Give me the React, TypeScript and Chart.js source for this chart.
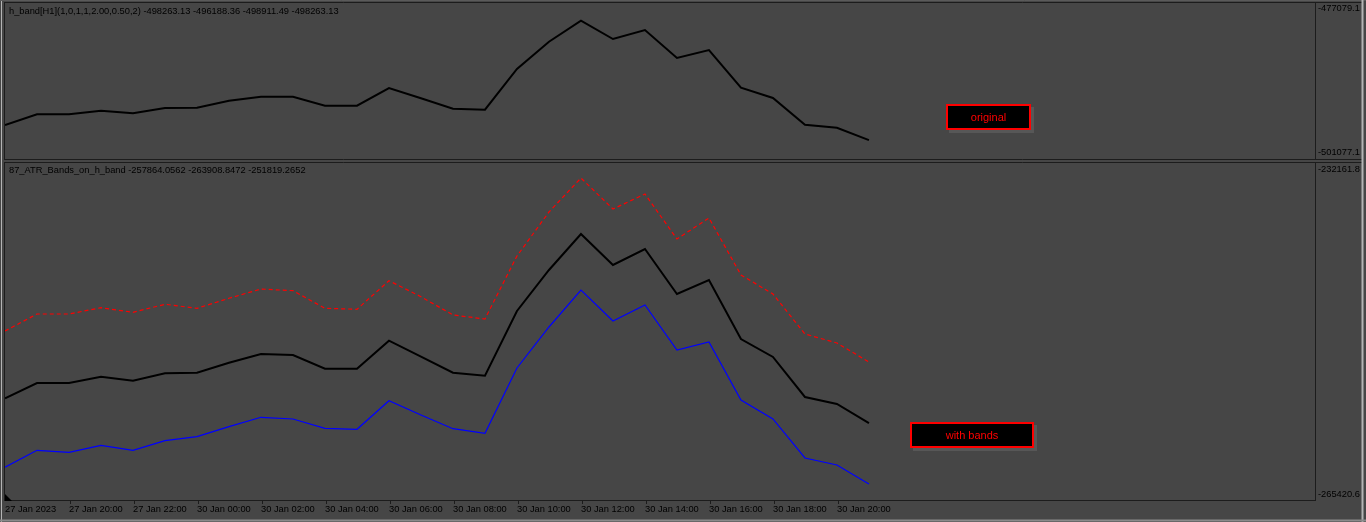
import React, { useEffect, useRef } from "react";
import { Chart, registerables } from "chart.js";
Chart.register(...registerables);

// ---- data ----
const BAR_TIMES = [
  "27 Jan 18:00", "27 Jan 19:00", "27 Jan 20:00", "27 Jan 21:00", "27 Jan 22:00", "27 Jan 23:00",
  "30 Jan 00:00", "30 Jan 01:00", "30 Jan 02:00", "30 Jan 03:00", "30 Jan 04:00", "30 Jan 05:00",
  "30 Jan 06:00", "30 Jan 07:00", "30 Jan 08:00", "30 Jan 09:00", "30 Jan 10:00", "30 Jan 11:00",
  "30 Jan 12:00", "30 Jan 13:00", "30 Jan 14:00", "30 Jan 15:00", "30 Jan 16:00", "30 Jan 17:00",
  "30 Jan 18:00", "30 Jan 19:00", "30 Jan 20:00", "30 Jan 21:00",
];
const TICK_INDEX = [0, 2, 4, 6, 8, 10, 12, 14, 16, 18, 20, 22, 24, 26];
const TICK_LABELS = [
  "27 Jan 2023", "27 Jan 20:00", "27 Jan 22:00", "30 Jan 00:00", "30 Jan 02:00", "30 Jan 04:00",
  "30 Jan 06:00", "30 Jan 08:00", "30 Jan 10:00", "30 Jan 12:00", "30 Jan 14:00", "30 Jan 16:00",
  "30 Jan 18:00", "30 Jan 20:00",
];

const H_BAND = [
  -495901, -494223, -494223, -493658, -494066, -493235, -493187, -492090, -491462, -491462,
  -492874, -492874, -490098, -491713, -493344, -493501, -487117, -482835, -479542, -482412,
  -481000, -485392, -484137, -490051, -491666, -495854, -496324, -498263.13,
];
const BAND_MID = [
  -255414, -253898, -253898, -253274, -253670, -252937, -252877, -251887, -251025, -251124,
  -252481, -252481, -249707, -251292, -252877, -253175, -246765, -242703, -239137, -242208,
  -240623, -245081, -243694, -249539, -251322, -255285, -255978, -257864.06,
];
const BAND_UP = [
  -248746, -247062, -247062, -246438, -246894, -246101, -246497, -245507, -244585, -244754,
  -246497, -246596, -243763, -245348, -247161, -247557, -241316, -236957, -233589, -236660,
  -235174, -239632, -237551, -243198, -245081, -249044, -249935, -251819.27,
];
const BAND_LO = [
  -262250, -260565, -260764, -260070, -260565, -259614, -259218, -258227, -257296, -257464,
  -258386, -258485, -255652, -257068, -258425, -258881, -252412, -248350, -244685, -247756,
  -246171, -250629, -249836, -255582, -257464, -261328, -262022, -263908.85,
];

const TOP_SCALE = [-501077.1, -477079.1];
const BOT_SCALE = [-265420.6, -232161.8];
const X_MAX = 40.94;
const TOP_TITLE = "h_band[H1](1,0,1,1,2.00,0.50,2) -498263.13 -496188.36 -498911.49 -498263.13";
const BOT_TITLE = "87_ATR_Bands_on_h_band -257864.0562 -263908.8472 -251819.2652";
const TOP_BOX = "original";
const BOT_BOX = "with bands";

// ---- styles ----
const BG = "#464646";
const FRAME = "#1c1c1c";
const TEXT = "#000000";
const EDGE = "#b4b4b4";
const FONT = '9.3px "Liberation Sans", Arial, sans-serif';
const BOX_FONT = '11px "Liberation Sans", Arial, sans-serif';

const pts = (arr: number[]) => arr.map((v, i) => ({ x: i, y: v }));

function line(ctx: CanvasRenderingContext2D, x1: number, y1: number, x2: number, y2: number, color: string, w = 1) {
  ctx.save();
  ctx.strokeStyle = color;
  ctx.lineWidth = w;
  ctx.setLineDash([]);
  ctx.beginPath();
  ctx.moveTo(x1, y1);
  ctx.lineTo(x2, y2);
  ctx.stroke();
  ctx.restore();
}

function text(ctx: CanvasRenderingContext2D, s: string, x: number, y: number, font: string, color: string, align: CanvasTextAlign = "left") {
  ctx.save();
  ctx.font = font;
  ctx.fillStyle = color;
  ctx.textAlign = align;
  ctx.textBaseline = "middle";
  ctx.fillText(s, x, y);
  ctx.restore();
}

function box(ctx: CanvasRenderingContext2D, s: string, x: number, y: number, w: number, h: number) {
  ctx.save();
  ctx.fillStyle = "#575757";
  ctx.fillRect(x + 3, y + 3, w, h);
  ctx.fillStyle = "#000000";
  ctx.fillRect(x, y, w, h);
  ctx.strokeStyle = "#ff0000";
  ctx.lineWidth = 2;
  ctx.strokeRect(x + 1, y + 1, w - 2, h - 2);
  ctx.restore();
  text(ctx, s, x + w / 2, y + h / 2 + 0.5, BOX_FONT, "#ff0000", "center");
}

const bgPlugin = {
  id: "bgfill",
  beforeDraw(chart: any) {
    const ctx = chart.ctx;
    ctx.save();
    ctx.fillStyle = BG;
    ctx.fillRect(0, 0, chart.width, chart.height);
    ctx.restore();
  },
};

const topDecor = {
  id: "topDecor",
  afterDraw(chart: any) {
    const ctx = chart.ctx as CanvasRenderingContext2D;
    const y = chart.scales.y;
    line(ctx, 4, 2.5, 1362, 2.5, FRAME);
    line(ctx, 4, 159.5, 1362, 159.5, FRAME);
    line(ctx, 4.5, 2.5, 4.5, 159.5, FRAME);
    line(ctx, 1315.5, 2.5, 1315.5, 159.5, FRAME);
    line(ctx, 1.5, 0, 1.5, 160, EDGE);
    line(ctx, 0, 0.5, 1366, 0.5, "#5a5a5a");
    text(ctx, TOP_TITLE, 9, 11.5, FONT, TEXT);
    text(ctx, y.max.toFixed(1), 1318, 8.5, FONT, TEXT);
    text(ctx, y.min.toFixed(1), 1318, 152.5, FONT, TEXT);
    line(ctx, 1362.5, 0, 1362.5, 160, EDGE, 2);
    box(ctx, TOP_BOX, 946, 104, 85, 26);
  },
};

const botDecor = {
  id: "botDecor",
  afterDraw(chart: any) {
    const ctx = chart.ctx as CanvasRenderingContext2D;
    const y = chart.scales.y;
    const x = chart.scales.x;
    line(ctx, 4, 2.5, 1362, 2.5, FRAME);
    line(ctx, 4, 340.5, 1316, 340.5, FRAME);
    line(ctx, 4.5, 2.5, 4.5, 340.5, FRAME);
    line(ctx, 1315.5, 2.5, 1315.5, 340.5, FRAME);
    line(ctx, 1.5, 0, 1.5, 362, EDGE);
    text(ctx, BOT_TITLE, 9, 10.7, FONT, TEXT);
    text(ctx, y.max.toFixed(1), 1318, 9, FONT, TEXT);
    text(ctx, y.min.toFixed(1), 1318, 334.3, FONT, TEXT);
    TICK_INDEX.forEach((idx, k) => {
      const px = Math.round(x.getPixelForValue(idx));
      if (k > 0) line(ctx, px + 1.5, 340, px + 1.5, 344, FRAME);
      text(ctx, TICK_LABELS[k], px, 349.7, FONT, TEXT);
    });
    ctx.save();
    ctx.fillStyle = "#000000";
    ctx.beginPath();
    ctx.moveTo(5, 334);
    ctx.lineTo(5, 341);
    ctx.lineTo(12, 341);
    ctx.closePath();
    ctx.fill();
    ctx.restore();
    line(ctx, 1362.5, 0, 1362.5, 362, EDGE, 2);
    line(ctx, 0, 360.5, 1366, 360.5, "#8a8a8a", 2);
    box(ctx, BOT_BOX, 910, 262, 124, 26);
  },
};

function makeOptions(scale: number[], padding: any) {
  return {
    responsive: false,
    animation: false as const,
    events: [] as any[],
    layout: { padding },
    plugins: { legend: { display: false }, tooltip: { enabled: false } },
    elements: { point: { radius: 0 }, line: { tension: 0 } },
    scales: {
      x: { type: "linear" as const, display: false, min: 0, max: X_MAX },
      y: { type: "linear" as const, display: false, min: scale[0], max: scale[1] },
    },
  };
}

export default function App() {
  const topRef = useRef<HTMLCanvasElement>(null);
  const botRef = useRef<HTMLCanvasElement>(null);

  useEffect(() => {
    const top = new Chart(topRef.current!, {
      type: "line",
      data: {
        labels: BAR_TIMES,
        datasets: [
          { label: "h_band", data: pts(H_BAND), borderColor: "#000000", borderWidth: 2, pointRadius: 0 },
        ],
      },
      options: makeOptions(TOP_SCALE, { left: 5, right: 51, top: 5, bottom: 2 }) as any,
      plugins: [bgPlugin, topDecor],
    });
    const bot = new Chart(botRef.current!, {
      type: "line",
      data: {
        labels: BAR_TIMES,
        datasets: [
          { label: "upper", data: pts(BAND_UP), borderColor: "#ff0000", borderWidth: 1.2, borderDash: [4, 3], pointRadius: 0 },
          { label: "middle", data: pts(BAND_MID), borderColor: "#000000", borderWidth: 2, pointRadius: 0 },
          { label: "lower", data: pts(BAND_LO), borderColor: "#0000ff", borderWidth: 1.2, pointRadius: 0 },
        ],
      },
      options: makeOptions(BOT_SCALE, { left: 5, right: 51, top: 3.6, bottom: 22.7 }) as any,
      plugins: [bgPlugin, botDecor],
    });
    return () => {
      top.destroy();
      bot.destroy();
    };
  }, []);

  return (
    <div style={{ position: "fixed", left: 0, top: 0, width: 1366, height: 522, background: BG, overflow: "hidden" }}>
      <canvas ref={topRef} width={1366} height={160} style={{ position: "absolute", left: 0, top: 0, width: 1366, height: 160 }} />
      <canvas ref={botRef} width={1366} height={362} style={{ position: "absolute", left: 0, top: 160, width: 1366, height: 362 }} />
    </div>
  );
}
